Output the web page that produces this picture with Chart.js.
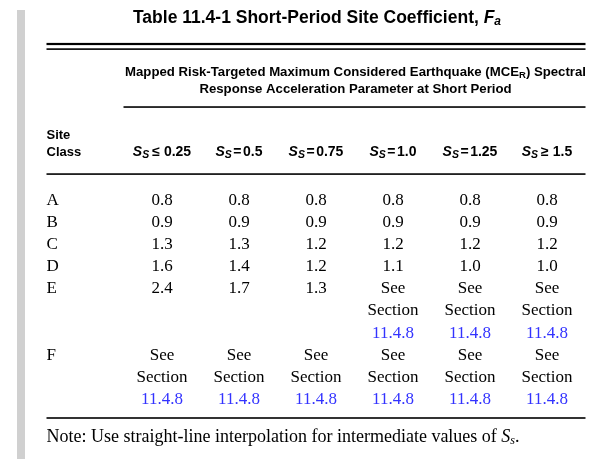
<!DOCTYPE html>
<html><head><meta charset="utf-8">
<script src="https://cdn.jsdelivr.net/npm/chart.js@4.4.1/dist/chart.umd.min.js"></script>
<style>html,body{margin:0;padding:0;background:#fff}</style>
</head><body>
<canvas id="c" width="600" height="473"></canvas>
<script>
// ---- data ----
const siteClasses = ['A', 'B', 'C', 'D', 'E', 'F'];
const ssOperators = ['≤', '=', '=', '=', '=', '≥'];
const ssValues = ['0.25', '0.5', '0.75', '1.0', '1.25', '1.5'];
const faA = [0.8, 0.8, 0.8, 0.8, 0.8, 0.8];
const faB = [0.9, 0.9, 0.9, 0.9, 0.9, 0.9];
const faC = [1.3, 1.3, 1.2, 1.2, 1.2, 1.2];
const faD = [1.6, 1.4, 1.2, 1.1, 1.0, 1.0];
const faE = [2.4, 1.7, 1.3, null, null, null];
const faF = [null, null, null, null, null, null];
const seeSectionText = ['See', 'Section', '11.4.8'];
const titleText = 'Table 11.4-1 Short-Period Site Coefficient, ';
const headerLine1 = 'Mapped Risk-Targeted Maximum Considered Earthquake (MCE';
const headerLine1b = ') Spectral';
const headerLine2 = 'Response Acceleration Parameter at Short Period';
const noteText = 'Note: Use straight-line interpolation for intermediate values of ';

const faRows = [faA, faB, faC, faD, faE, faF];

// build cell points: each row occupies as many text lines as its tallest cell
const datasets = [];
let line = 0;
faRows.forEach((row, r) => {
  const cells = row.map(v => v === null ? seeSectionText : [v.toFixed(1)]);
  const h = Math.max(1, ...cells.map(c => c.length));
  datasets.push({
    label: siteClasses[r],
    data: [{x: 0, y: line, lines: [siteClasses[r]], isClass: true}]
      .concat(cells.map((c, i) => ({x: i + 1, y: line, lines: c}))),
    pointRadius: 0, showLine: false
  });
  line += h;
});

const SERIF = "'Liberation Serif','Times New Roman',serif";
const SANS = "'Liberation Sans',Arial,sans-serif";
const LINE_PX = 22.2;
const BLUE = '#3333ff';

function drawRich(ctx, parts, x, y, align) {
  let total = 0;
  parts.forEach(p => { ctx.font = p.font || ctx.font; p.w = p.gap !== undefined ? p.gap : ctx.measureText(p.t).width; total += p.w; });
  let cx = align === 'center' ? x - total / 2 : x;
  ctx.textAlign = 'left';
  parts.forEach(p => {
    if (p.gap === undefined) { ctx.font = p.font; ctx.fillText(p.t, cx, y + (p.dy || 0)); }
    cx += p.w;
  });
}

const tablePlugin = {
  id: 'tablePlugin',
  afterDraw(chart) {
    const ctx = chart.ctx;
    const xs = chart.scales.x, ys = chart.scales.y;
    const left = xs.getPixelForValue(-0.5), right = xs.getPixelForValue(6.5);
    ctx.save();
    // gray margin bar
    ctx.fillStyle = '#d0d0d0';
    ctx.fillRect(17, 10, 8, 449);
    ctx.fillStyle = '#000';
    ctx.textBaseline = 'middle';
    // title
    drawRich(ctx, [
      {t: titleText, font: 'bold 17.5px ' + SANS},
      {t: 'F', font: 'italic bold 17.5px ' + SANS},
      {t: 'a', font: 'italic bold 12px ' + SANS, dy: 4}
    ], 317, 18, 'center');
    // rules
    const hline = (yv, x0, w) => {
      const y = ys.getPixelForValue(yv);
      ctx.fillRect(x0, y - w / 2, right - x0, w);
    };
    hline(-7.03, left, 2.2);
    hline(-6.80, left, 1.6);
    hline(-4.19, xs.getPixelForValue(0.5), 1.6);
    hline(-1.17, left, 1.6);
    hline(9.82, left, 1.6);
    // spanning header
    const midHdr = (xs.getPixelForValue(0.5) + right) / 2 + 1;
    drawRich(ctx, [
      {t: headerLine1, font: 'bold 13.2px ' + SANS},
      {t: 'R', font: 'bold 9.5px ' + SANS, dy: 3},
      {t: headerLine1b, font: 'bold 13.2px ' + SANS}
    ], midHdr, ys.getPixelForValue(-5.76), 'center');
    drawRich(ctx, [{t: headerLine2, font: 'bold 13.2px ' + SANS}], midHdr, ys.getPixelForValue(-5.0), 'center');
    // column headers
    ctx.font = 'bold 13px ' + SANS;
    ctx.textAlign = 'left';
    ctx.fillText('Site', left, ys.getPixelForValue(-2.92));
    ctx.fillText('Class', left, ys.getPixelForValue(-2.16));
    ssOperators.forEach((op, i) => {
      const wide = op !== '=';
      drawRich(ctx, [
        {t: 'S', font: 'italic bold 14px ' + SANS},
        {t: 'S', font: 'italic bold 10.5px ' + SANS, dy: 3},
        {gap: wide ? 3 : 1.5},
        {t: op, font: 'bold 14px ' + SANS},
        {gap: wide ? 4 : 1.5},
        {t: ssValues[i], font: 'bold 14px ' + SANS}
      ], xs.getPixelForValue(i + 1), ys.getPixelForValue(-2.16), 'center');
    });
    // body cells from dataset elements
    chart.data.datasets.forEach((ds, di) => {
      const meta = chart.getDatasetMeta(di);
      meta.data.forEach((el, j) => {
        const pt = ds.data[j];
        pt.lines.forEach((txt, k) => {
          ctx.font = '17px ' + SERIF;
          ctx.fillStyle = txt === '11.4.8' ? BLUE : '#000';
          if (pt.isClass) { ctx.textAlign = 'left'; ctx.fillText(txt, left, el.y + k * LINE_PX); }
          else { ctx.textAlign = 'center'; ctx.fillText(txt, el.x, el.y + k * LINE_PX); }
        });
      });
    });
    // note
    ctx.fillStyle = '#000';
    drawRich(ctx, [
      {t: noteText, font: '18px ' + SERIF},
      {t: 'S', font: 'italic 18px ' + SERIF},
      {t: 's', font: 'italic 12px ' + SERIF, dy: 4},
      {t: '.', font: '18px ' + SERIF}
    ], left, 437, 'left');
    ctx.restore();
  }
};

new Chart(document.getElementById('c'), {
  type: 'scatter',
  data: {datasets},
  options: {
    responsive: false, animation: false, devicePixelRatio: 1,
    layout: {padding: {left: 46.5, right: 14.5, top: 44, bottom: 55}},
    plugins: {legend: {display: false}, tooltip: {enabled: false}},
    scales: {
      x: {type: 'linear', min: -0.5, max: 6.5, display: false},
      y: {type: 'linear', min: -7.03, max: 9.82, reverse: true, display: false}
    }
  },
  plugins: [tablePlugin]
});
</script>
</body></html>
